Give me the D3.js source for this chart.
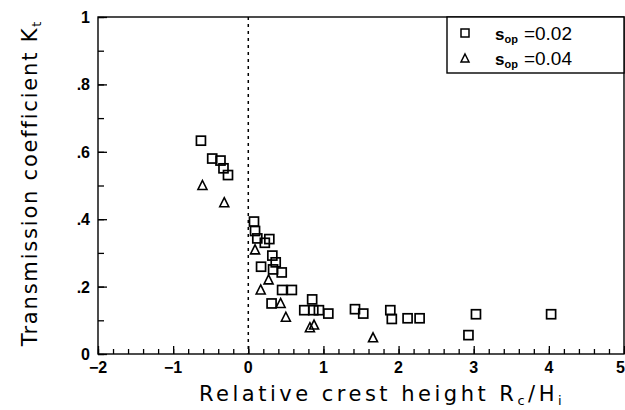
<!DOCTYPE html>
<html><head><meta charset="utf-8">
<script src="https://cdn.jsdelivr.net/npm/d3@7"></script>
<style>body{margin:0;background:#fff}svg{display:block}</style>
</head><body>
<svg id="c" width="625" height="410"></svg>
<script>
// Data: series s_op = 0.02 (squares)
const sq02_x = [-0.63,-0.48,-0.37,-0.33,-0.27,0.076,0.09,0.12,0.22,0.28,0.32,0.365,0.17,0.33,0.445,0.45,0.58,0.31,0.745,0.85,0.865,0.94,1.065,1.42,1.53,1.89,1.91,2.12,2.28,3.03,2.93,4.03];
const sq02_y = [0.633,0.58,0.574,0.551,0.531,0.393,0.365,0.343,0.330,0.341,0.292,0.272,0.259,0.251,0.242,0.19,0.19,0.15,0.13,0.162,0.13,0.13,0.12,0.133,0.12,0.13,0.104,0.106,0.106,0.118,0.056,0.118];
// Data: series s_op = 0.04 (triangles)
const tr04_x = [-0.61,-0.32,0.09,0.27,0.165,0.43,0.50,0.875,0.82,1.66];
const tr04_y = [0.50,0.449,0.309,0.22,0.19,0.15,0.109,0.086,0.078,0.048];
const xTicks = [-2,-1,0,1,2,3,4,5];
const xTickLabels = ["\u22122","\u22121","0","1","2","3","4","5"];
const yTicks = [0,0.2,0.4,0.6,0.8,1];
const yTickLabels = ["0",".2",".4",".6",".8","1"];
const legendLabels = ["=0.02","=0.04"];

const svg = d3.select("#c");
const x = d3.scaleLinear().domain([-2,5]).range([98,624]);
const y = d3.scaleLinear().domain([0,1]).range([354,17]);
const F = "'Liberation Sans', Arial, Helvetica, sans-serif";
const FT = "'DejaVu Sans', 'Liberation Sans', sans-serif";

// frame
svg.append("rect").attr("x",x(-2)).attr("y",y(1)).attr("width",x(5)-x(-2)).attr("height",y(0)-y(1))
  .attr("fill","none").attr("stroke","#000").attr("stroke-width",1.4);

// x axis ticks (inward)
const xMinor = d3.range(-2,5.001,0.2).map(v=>+v.toFixed(2));
const gx = svg.append("g").attr("transform",`translate(0,${y(0)})`);
gx.call(d3.axisTop(x).tickValues(xMinor).tickSize(5).tickFormat(""))
  .call(g=>g.select(".domain").remove());
gx.append("g").call(d3.axisTop(x).tickValues(xTicks).tickSize(8).tickFormat(""))
  .call(g=>g.select(".domain").remove());
gx.selectAll("line").attr("stroke","#000").attr("stroke-width",1.3);
svg.append("g").selectAll("text").data(xTicks).join("text")
  .attr("x",d=>d===5 ? x(d)+1 : x(d)).attr("y",y(0)+19)
  .attr("text-anchor",d=>d===5 ? "end" : "middle")
  .attr("font-family",F).attr("font-size",16).attr("font-weight","bold")
  .text((d,i)=>xTickLabels[i]);

// y axis ticks (inward)
const yMinor = d3.range(0,1.001,0.1).map(v=>+v.toFixed(2));
const gy = svg.append("g").attr("transform",`translate(${x(-2)},0)`);
gy.call(d3.axisRight(y).tickValues(yMinor).tickSize(6).tickFormat(""))
  .call(g=>g.select(".domain").remove());
gy.append("g").call(d3.axisRight(y).tickValues(yTicks).tickSize(9).tickFormat(""))
  .call(g=>g.select(".domain").remove());
gy.selectAll("line").attr("stroke","#000").attr("stroke-width",1.3);
svg.append("g").selectAll("text").data(yTicks).join("text")
  .attr("x",x(-2)-8).attr("y",d=>y(d)+6).attr("text-anchor","end")
  .attr("font-family",F).attr("font-size",16).attr("font-weight","bold")
  .text((d,i)=>yTickLabels[i]);

// dashed x=0 line
svg.append("line").attr("x1",x(0)).attr("x2",x(0)).attr("y1",y(1)).attr("y2",y(0))
  .attr("stroke","#000").attr("stroke-width",1.5).attr("stroke-dasharray","3,4");

// markers
const S = 9;
svg.append("g").selectAll("rect").data(sq02_x.map((v,i)=>[v,sq02_y[i]])).join("rect")
  .attr("x",d=>x(d[0])-S/2).attr("y",d=>y(d[1])-S/2).attr("width",S).attr("height",S)
  .attr("fill","#fff").attr("fill-opacity",0).attr("stroke","#000").attr("stroke-width",1.7);
const tri = d=>{const cx=x(d[0]),cy=y(d[1]);return `M${cx},${cy-5} L${cx+4.5},${cy+4} L${cx-4.5},${cy+4} Z`;};
svg.append("g").selectAll("path").data(tr04_x.map((v,i)=>[v,tr04_y[i]])).join("path")
  .attr("d",tri).attr("fill","none").attr("stroke","#000").attr("stroke-width",1.6);

// legend
svg.append("rect").attr("x",447).attr("y",y(1)).attr("width",x(5)-447).attr("height",56)
  .attr("fill","#fff").attr("stroke","#000").attr("stroke-width",1.4);
svg.append("rect").attr("x",465-4).attr("y",33-4).attr("width",8).attr("height",8)
  .attr("fill","none").attr("stroke","#000").attr("stroke-width",1.5);
svg.append("path").attr("d",`M465,54 L469,62 L461,62 Z`).attr("fill","none").attr("stroke","#000").attr("stroke-width",1.5);
legendLabels.forEach((lab,i)=>{
  const t = svg.append("text").attr("x",495).attr("y",40+i*25).attr("font-family",F).attr("font-size",19);
  t.append("tspan").attr("font-weight","bold").attr("font-size",17).text("s");
  t.append("tspan").attr("font-size",11).attr("dy",3).attr("font-weight","bold").text("op");
  t.append("tspan").attr("dy",-3).attr("dx",6).text(lab);
});

// axis titles
const xt = svg.append("text").attr("x",382).attr("y",401).attr("text-anchor","middle")
  .attr("font-family",FT).attr("font-size",21).attr("letter-spacing",3.5);
xt.append("tspan").text("Relative crest height R");
xt.append("tspan").attr("font-size",13).attr("dy",4).text("c");
xt.append("tspan").attr("dy",-4).text("/H");
xt.append("tspan").attr("font-size",13).attr("dy",4).text("i");

const yt = svg.append("text").attr("transform","translate(37,183) rotate(-90)").attr("text-anchor","middle")
  .attr("font-family",FT).attr("font-size",21).attr("letter-spacing",1.8);
yt.append("tspan").text("Transmission coefficient K");
yt.append("tspan").attr("font-size",13).attr("dy",4).text("t");
</script>
</body></html>
